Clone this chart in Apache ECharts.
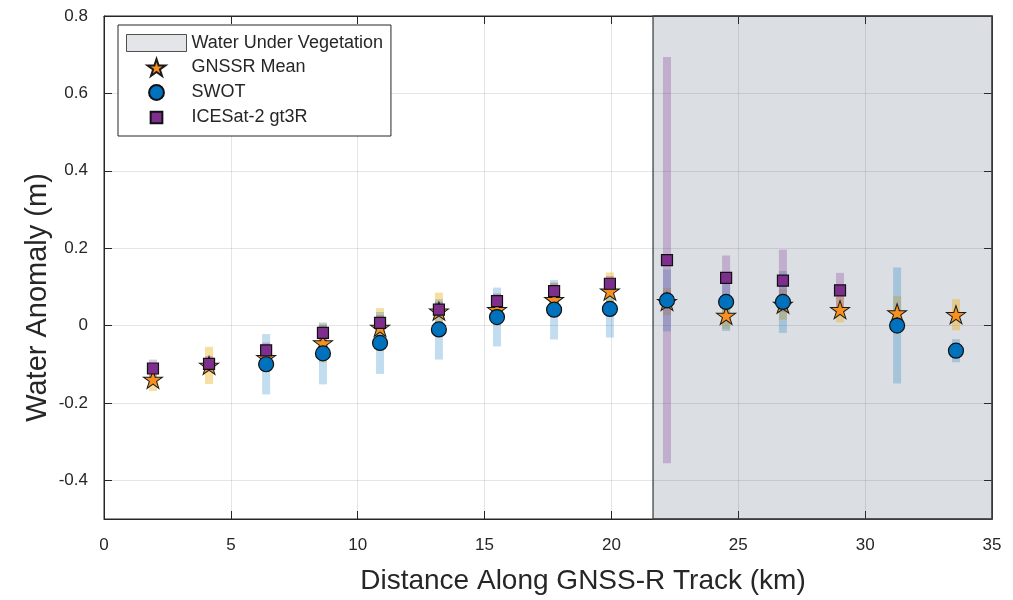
<!DOCTYPE html>
<html>
<head>
<meta charset="utf-8">
<script src="https://cdn.jsdelivr.net/npm/echarts@6/dist/echarts.min.js"></script>
<style>html,body{margin:0;padding:0;background:#fff;}#chart{width:1013px;height:600px;}</style>
</head>
<body>
<div id="chart"></div>
<script>
// ---- data ----
const distanceKm = [1.93, 4.14, 6.39, 8.63, 10.88, 13.2, 15.49, 17.74, 19.94, 22.19, 24.52, 26.76, 29.01, 31.26, 33.58];
const gnssrMean  = [-0.139, -0.103, -0.083, -0.045, -0.005, 0.037, 0.041, 0.067, 0.089, 0.062, 0.026, 0.055, 0.041, 0.033, 0.028];
const gnssrErr   = [0.03, 0.048, 0.03, 0.05, 0.05, 0.048, 0.04, 0.045, 0.048, 0.035, 0.035, 0.04, 0.033, 0.043, 0.04];
const swot       = [null, null, -0.10, -0.072, -0.045, -0.01, 0.022, 0.041, 0.043, 0.065, 0.061, 0.061, null, 0.0, -0.065];
const swotErr    = [null, null, 0.078, 0.08, 0.08, 0.078, 0.076, 0.077, 0.074, 0.08, 0.075, 0.08, null, 0.15, 0.03];
const icesat     = [-0.111, -0.099, -0.064, -0.019, 0.007, 0.041, 0.063, 0.089, 0.108, 0.169, 0.123, 0.116, 0.091, null, null];
const icesatErr  = [0.023, 0.02, 0.02, 0.02, 0.02, 0.02, 0.02, 0.02, 0.02, 0.525, 0.058, 0.08, 0.045, null, null];
const vegetationStartKm = 21.64;
const xTicks = [0, 5, 10, 15, 20, 25, 30, 35];
const yTicks = [-0.4, -0.2, 0, 0.2, 0.4, 0.6, 0.8];
const seriesNames = ['Water Under Vegetation', 'GNSSR Mean', 'SWOT', 'ICESat-2 gt3R'];

// ---- helpers ----
function pts(vals) {
  const out = [];
  vals.forEach((v, i) => { if (v !== null) out.push([distanceKm[i], v]); });
  return out;
}
function bars(vals, errs) {
  const out = [];
  vals.forEach((v, i) => { if (v !== null) out.push([distanceKm[i], v - errs[i], v + errs[i]]); });
  return out;
}
function barRenderer(color) {
  return function (params, api) {
    const x = api.value(0), lo = api.value(1), hi = api.value(2);
    const top = api.coord([x, hi]);
    const bot = api.coord([x, lo]);
    const w = 8;
    return { type: 'rect', shape: { x: top[0] - w / 2, y: top[1], width: w, height: bot[1] - top[1] }, style: { fill: color } };
  };
}
const STAR = 'path://M50 0L61.23 34.55L97.55 34.55L68.17 55.9L79.39 90.45L50 69.1L20.61 90.45L31.83 55.9L2.45 34.55L38.77 34.55Z';
const SMALL_SQUARE = 'path://M0 0M16 16M2.5 2.5L13.5 2.5L13.5 13.5L2.5 13.5Z';
const SMALL_CIRCLE = 'path://M0 0M16 16M1 8A7 7 0 1 0 15 8A7 7 0 1 0 1 8Z';
const FONT = '"Liberation Sans", Arial, Helvetica, sans-serif';
const TXT = '#262626';
const shadeFill = 'rgba(55,72,100,0.18)';

const chart = echarts.init(document.getElementById('chart'), null, { renderer: 'canvas' });
const yFmt = v => (Math.abs(v) < 1e-9 ? '0' : v.toFixed(1));

chart.setOption({
  animation: false,
  backgroundColor: '#fff',
  textStyle: { fontFamily: FONT },
  grid: { left: 104, right: 21, top: 16, bottom: 81, show: true, borderColor: TXT, borderWidth: 1, backgroundColor: 'transparent', outerBoundsMode: 'none', containLabel: false },
  legend: {
    orient: 'vertical', left: 118, top: 25,
    padding: [9, 8, 9, 8], itemGap: 6, itemWidth: 60, itemHeight: 17,
    backgroundColor: '#fff', borderColor: TXT, borderWidth: 1,
    textStyle: { fontSize: 18, color: TXT, fontFamily: FONT, lineHeight: 18 },
    data: [
      { name: seriesNames[0], icon: 'rect', itemStyle: { color: '#dcdee3', borderColor: TXT, borderWidth: 1 } },
      { name: seriesNames[1], icon: STAR },
      { name: seriesNames[2], icon: SMALL_CIRCLE },
      { name: seriesNames[3], icon: SMALL_SQUARE }
    ]
  },
  xAxis: [{
    type: 'value', min: 0, max: 35, interval: 5,
    name: 'Distance Along GNSS-R Track (km)', nameLocation: 'middle', nameGap: 48, nameMoveOverlap: false,
    nameTextStyle: { fontSize: 28, color: TXT, fontFamily: FONT, padding: [0, 0, 0, 70] },
    axisLine: { show: true, onZero: false, lineStyle: { color: TXT, width: 1 } },
    axisTick: { show: true, inside: true, length: 8, lineStyle: { color: TXT } },
    axisLabel: { fontSize: 17, color: TXT, margin: 18, customValues: xTicks },
    splitLine: { show: true, lineStyle: { color: 'rgba(0,0,0,0.1)', width: 1 } }
  }, {
    type: 'value', min: 0, max: 35, interval: 5, position: 'top',
    axisLine: { show: true, onZero: false, lineStyle: { color: TXT } },
    axisTick: { show: true, inside: true, length: 8, lineStyle: { color: TXT } },
    axisLabel: { show: false }, splitLine: { show: false }
  }],
  yAxis: [{
    type: 'value', min: -0.5, max: 0.8,
    name: 'Water Anomaly (m)', nameLocation: 'middle', nameGap: 52, nameMoveOverlap: false,
    nameTextStyle: { fontSize: 29, color: TXT, fontFamily: FONT, padding: [0, 60, 0, 0] },
    axisLine: { show: true, onZero: false, lineStyle: { color: TXT, width: 1 } },
    axisTick: { show: true, inside: true, length: 8, lineStyle: { color: TXT }, customValues: yTicks },
    axisLabel: { fontSize: 17, color: TXT, margin: 16, customValues: yTicks, formatter: yFmt },
    splitLine: { show: true, lineStyle: { color: 'rgba(0,0,0,0.1)', width: 1 } }
  }, {
    type: 'value', min: -0.5, max: 0.8, position: 'right',
    axisLine: { show: true, onZero: false, lineStyle: { color: TXT } },
    axisTick: { show: true, inside: true, length: 8, lineStyle: { color: TXT }, customValues: yTicks },
    axisLabel: { show: false, customValues: yTicks }, splitLine: { show: false }
  }],
  series: [
    {
      name: seriesNames[0], type: 'scatter', data: [], z: 1, silent: true,
      itemStyle: { color: '#dcdee3', borderColor: TXT, borderWidth: 1 },
      markArea: {
        silent: true,
        itemStyle: { color: shadeFill, borderColor: '#444', borderWidth: 1.3 },
        label: { show: false },
        data: [[{ xAxis: vegetationStartKm }, { xAxis: 35 }]]
      }
    },
    { type: 'custom', name: 'gnssrBars', data: bars(gnssrMean, gnssrErr), renderItem: barRenderer('rgba(237,177,32,0.42)'), z: 2, silent: true, encode: { x: 0, y: [1, 2] } },
    { type: 'custom', name: 'swotBars', data: bars(swot, swotErr), renderItem: barRenderer('rgba(0,114,189,0.24)'), z: 2, silent: true, encode: { x: 0, y: [1, 2] } },
    { type: 'custom', name: 'icesatBars', data: bars(icesat, icesatErr), renderItem: barRenderer('rgba(126,47,142,0.28)'), z: 2, silent: true, encode: { x: 0, y: [1, 2] } },
    {
      name: seriesNames[1], type: 'scatter', data: pts(gnssrMean), z: 3,
      symbol: STAR, symbolSize: [19, 18],
      itemStyle: { color: '#f7901e', borderColor: '#1a1a1a', borderWidth: 1, opacity: 1 }
    },
    {
      name: seriesNames[2], type: 'scatter', data: pts(swot), z: 4,
      symbol: 'circle', symbolSize: 15,
      itemStyle: { color: '#0072bd', borderColor: '#111', borderWidth: 1.2, opacity: 1 }
    },
    {
      name: seriesNames[3], type: 'scatter', data: pts(icesat), z: 5,
      symbol: 'rect', symbolSize: 11,
      itemStyle: { color: '#7e2f8e', borderColor: '#111', borderWidth: 1.2, opacity: 1 }
    }
  ]
});
</script>
</body>
</html>
